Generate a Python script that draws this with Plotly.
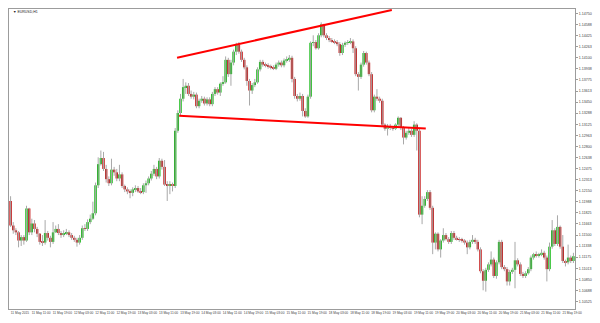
import plotly.graph_objects as go

symbol_title = "EURUSD,H1"

opens = [
    1.1200, 1.1164, 1.1157, 1.1154, 1.1142, 1.1147, 1.1142, 1.1189, 1.1154, 1.1167,
    1.1159, 1.1152, 1.1140, 1.1139, 1.1153, 1.1146, 1.1140, 1.1154, 1.1159, 1.1153,
    1.1150, 1.1153, 1.1154, 1.1150, 1.1146, 1.1143, 1.1139, 1.1146, 1.1160, 1.1159,
    1.1169, 1.1174, 1.1182, 1.1223, 1.1254, 1.1263, 1.1247, 1.1232, 1.1226, 1.1246,
    1.1242, 1.1233, 1.1239, 1.1222, 1.1217, 1.1214, 1.1212, 1.1217, 1.1219, 1.1214,
    1.1213, 1.1223, 1.1226, 1.1233, 1.1240, 1.1247, 1.1236, 1.1259, 1.1250, 1.1224,
    1.1222, 1.1224, 1.1222, 1.1303, 1.1329, 1.1350, 1.1367, 1.1369, 1.1357, 1.1353,
    1.1356, 1.1339, 1.1347, 1.1350, 1.1343, 1.1349, 1.1342, 1.1357, 1.1364, 1.1359,
    1.1372, 1.1374, 1.1407, 1.1386, 1.1403, 1.1419, 1.1429, 1.1419, 1.1407, 1.1396,
    1.1376, 1.1362, 1.1370, 1.1374, 1.1393, 1.1404, 1.1400, 1.1399, 1.1397, 1.1396,
    1.1394, 1.1400, 1.1403, 1.1399, 1.1406, 1.1407, 1.1410, 1.1379, 1.1354, 1.1350,
    1.1354, 1.1332, 1.1324, 1.1353, 1.1432, 1.1433, 1.1424, 1.1443, 1.1459, 1.1443,
    1.1439, 1.1436, 1.1434, 1.1433, 1.1430, 1.1417, 1.1429, 1.1432, 1.1433, 1.1434,
    1.1424, 1.1386, 1.1382, 1.1400, 1.1417, 1.1403, 1.1386, 1.1333, 1.1353, 1.1350,
    1.1347, 1.1312, 1.1306, 1.1310, 1.1307, 1.1306, 1.1312, 1.1322, 1.1307, 1.1293,
    1.1300, 1.1303, 1.1297, 1.1312, 1.1303, 1.1180, 1.1193, 1.1203, 1.1213, 1.1190,
    1.1139, 1.1152, 1.1129, 1.1142, 1.1150, 1.1144, 1.1140, 1.1153, 1.1146, 1.1144,
    1.1143, 1.1142, 1.1139, 1.1132, 1.1140, 1.1143, 1.1140, 1.1129, 1.1097, 1.1083,
    1.1099, 1.1107, 1.1114, 1.1090, 1.1110, 1.1140, 1.1103, 1.1100, 1.1082, 1.1096,
    1.1099, 1.1113, 1.1107, 1.1093, 1.1090, 1.1094, 1.1100, 1.1117, 1.1122, 1.1120,
    1.1122, 1.1124, 1.1117, 1.1100, 1.1133, 1.1157, 1.1137, 1.1162, 1.1133, 1.1112,
    1.1110, 1.1117, 1.1112,
]

closes = [
    1.1164, 1.1157, 1.1154, 1.1142, 1.1147, 1.1142, 1.1189, 1.1154, 1.1167, 1.1159,
    1.1152, 1.1140, 1.1139, 1.1153, 1.1146, 1.1140, 1.1154, 1.1159, 1.1153, 1.1150,
    1.1153, 1.1154, 1.1150, 1.1146, 1.1143, 1.1139, 1.1146, 1.1160, 1.1159, 1.1169,
    1.1174, 1.1182, 1.1223, 1.1254, 1.1263, 1.1247, 1.1232, 1.1226, 1.1246, 1.1242,
    1.1233, 1.1239, 1.1222, 1.1217, 1.1214, 1.1212, 1.1217, 1.1219, 1.1214, 1.1213,
    1.1223, 1.1226, 1.1233, 1.1240, 1.1247, 1.1236, 1.1259, 1.1250, 1.1224, 1.1222,
    1.1224, 1.1222, 1.1303, 1.1329, 1.1350, 1.1367, 1.1369, 1.1357, 1.1353, 1.1356,
    1.1339, 1.1347, 1.1350, 1.1343, 1.1349, 1.1342, 1.1357, 1.1364, 1.1359, 1.1372,
    1.1374, 1.1407, 1.1386, 1.1403, 1.1419, 1.1429, 1.1419, 1.1407, 1.1396, 1.1376,
    1.1362, 1.1370, 1.1374, 1.1393, 1.1404, 1.1400, 1.1399, 1.1397, 1.1396, 1.1394,
    1.1400, 1.1403, 1.1399, 1.1406, 1.1407, 1.1410, 1.1379, 1.1354, 1.1350, 1.1354,
    1.1332, 1.1324, 1.1353, 1.1432, 1.1433, 1.1424, 1.1443, 1.1459, 1.1443, 1.1439,
    1.1436, 1.1434, 1.1433, 1.1430, 1.1417, 1.1429, 1.1432, 1.1433, 1.1434, 1.1424,
    1.1386, 1.1382, 1.1400, 1.1417, 1.1403, 1.1386, 1.1333, 1.1353, 1.1350, 1.1347,
    1.1312, 1.1306, 1.1310, 1.1307, 1.1306, 1.1312, 1.1322, 1.1307, 1.1293, 1.1300,
    1.1303, 1.1297, 1.1312, 1.1303, 1.1180, 1.1193, 1.1203, 1.1213, 1.1190, 1.1139,
    1.1152, 1.1129, 1.1142, 1.1150, 1.1144, 1.1140, 1.1153, 1.1146, 1.1144, 1.1143,
    1.1142, 1.1139, 1.1132, 1.1140, 1.1143, 1.1140, 1.1129, 1.1097, 1.1083, 1.1099,
    1.1107, 1.1114, 1.1090, 1.1110, 1.1140, 1.1103, 1.1100, 1.1082, 1.1096, 1.1099,
    1.1113, 1.1107, 1.1093, 1.1090, 1.1094, 1.1100, 1.1117, 1.1122, 1.1120, 1.1122,
    1.1124, 1.1117, 1.1100, 1.1133, 1.1157, 1.1137, 1.1162, 1.1133, 1.1112, 1.1110,
    1.1117, 1.1112, 1.1119,
]

highs = [
    1.1207, 1.1169, 1.1160, 1.1156, 1.1150, 1.1150, 1.1193, 1.1190, 1.1174, 1.1172,
    1.1162, 1.1153, 1.1150, 1.1172, 1.1156, 1.1149, 1.1169, 1.1164, 1.1166, 1.1156,
    1.1157, 1.1159, 1.1157, 1.1153, 1.1149, 1.1146, 1.1150, 1.1164, 1.1166, 1.1173,
    1.1180, 1.1199, 1.1227, 1.1264, 1.1274, 1.1272, 1.1253, 1.1236, 1.1262, 1.1250,
    1.1247, 1.1253, 1.1242, 1.1224, 1.1220, 1.1217, 1.1220, 1.1223, 1.1222, 1.1219,
    1.1226, 1.1230, 1.1236, 1.1244, 1.1253, 1.1250, 1.1263, 1.1262, 1.1260, 1.1229,
    1.1229, 1.1227, 1.1307, 1.1333, 1.1357, 1.1379, 1.1374, 1.1373, 1.1362, 1.1360,
    1.1359, 1.1350, 1.1354, 1.1353, 1.1352, 1.1352, 1.1360, 1.1367, 1.1367, 1.1374,
    1.1383, 1.1412, 1.1410, 1.1407, 1.1422, 1.1432, 1.1433, 1.1422, 1.1410, 1.1399,
    1.1379, 1.1373, 1.1379, 1.1396, 1.1407, 1.1407, 1.1403, 1.1402, 1.1400, 1.1399,
    1.1403, 1.1406, 1.1406, 1.1409, 1.1412, 1.1414, 1.1413, 1.1382, 1.1357, 1.1359,
    1.1357, 1.1336, 1.1356, 1.1434, 1.1443, 1.1436, 1.1446, 1.1462, 1.1460, 1.1446,
    1.1442, 1.1439, 1.1437, 1.1436, 1.1433, 1.1432, 1.1434, 1.1436, 1.1439, 1.1437,
    1.1427, 1.1389, 1.1403, 1.1420, 1.1419, 1.1406, 1.1389, 1.1356, 1.1364, 1.1353,
    1.1350, 1.1314, 1.1313, 1.1313, 1.1310, 1.1314, 1.1324, 1.1323, 1.1310, 1.1303,
    1.1307, 1.1306, 1.1317, 1.1314, 1.1306, 1.1207, 1.1207, 1.1216, 1.1216, 1.1193,
    1.1154, 1.1154, 1.1144, 1.1160, 1.1153, 1.1147, 1.1156, 1.1156, 1.1149, 1.1147,
    1.1146, 1.1144, 1.1142, 1.1143, 1.1150, 1.1146, 1.1143, 1.1132, 1.1100, 1.1102,
    1.1110, 1.1126, 1.1117, 1.1113, 1.1143, 1.1143, 1.1106, 1.1103, 1.1099, 1.1102,
    1.1140, 1.1116, 1.1110, 1.1096, 1.1097, 1.1103, 1.1120, 1.1124, 1.1126, 1.1124,
    1.1129, 1.1127, 1.1120, 1.1139, 1.1172, 1.1160, 1.1179, 1.1164, 1.1150, 1.1114,
    1.1136, 1.1120, 1.1124,
]

lows = [
    1.1162, 1.1152, 1.1150, 1.1132, 1.1134, 1.1136, 1.1140, 1.1150, 1.1150, 1.1154,
    1.1147, 1.1136, 1.1134, 1.1136, 1.1142, 1.1132, 1.1137, 1.1153, 1.1150, 1.1146,
    1.1147, 1.1150, 1.1147, 1.1143, 1.1140, 1.1133, 1.1136, 1.1143, 1.1156, 1.1156,
    1.1166, 1.1172, 1.1179, 1.1219, 1.1252, 1.1244, 1.1227, 1.1222, 1.1223, 1.1237,
    1.1229, 1.1229, 1.1219, 1.1213, 1.1210, 1.1204, 1.1207, 1.1213, 1.1212, 1.1210,
    1.1210, 1.1212, 1.1223, 1.1230, 1.1237, 1.1232, 1.1233, 1.1246, 1.1222, 1.1200,
    1.1210, 1.1214, 1.1219, 1.1300, 1.1326, 1.1346, 1.1357, 1.1354, 1.1350, 1.1349,
    1.1336, 1.1336, 1.1344, 1.1340, 1.1340, 1.1339, 1.1339, 1.1354, 1.1356, 1.1354,
    1.1369, 1.1372, 1.1382, 1.1369, 1.1399, 1.1414, 1.1416, 1.1404, 1.1393, 1.1369,
    1.1340, 1.1357, 1.1367, 1.1372, 1.1390, 1.1397, 1.1396, 1.1394, 1.1393, 1.1392,
    1.1392, 1.1397, 1.1396, 1.1396, 1.1403, 1.1404, 1.1374, 1.1350, 1.1346, 1.1347,
    1.1324, 1.1322, 1.1322, 1.1350, 1.1427, 1.1422, 1.1422, 1.1440, 1.1440, 1.1436,
    1.1433, 1.1432, 1.1430, 1.1427, 1.1413, 1.1414, 1.1426, 1.1429, 1.1430, 1.1417,
    1.1383, 1.1362, 1.1379, 1.1397, 1.1400, 1.1383, 1.1330, 1.1330, 1.1347, 1.1344,
    1.1309, 1.1303, 1.1296, 1.1304, 1.1303, 1.1304, 1.1309, 1.1304, 1.1283, 1.1290,
    1.1297, 1.1294, 1.1294, 1.1274, 1.1176, 1.1166, 1.1190, 1.1200, 1.1187, 1.1122,
    1.1129, 1.1126, 1.1117, 1.1139, 1.1142, 1.1137, 1.1137, 1.1143, 1.1142, 1.1140,
    1.1139, 1.1136, 1.1122, 1.1129, 1.1137, 1.1137, 1.1126, 1.1094, 1.1069, 1.1067,
    1.1096, 1.1104, 1.1087, 1.1086, 1.1107, 1.1100, 1.1097, 1.1076, 1.1076, 1.1093,
    1.1072, 1.1104, 1.1090, 1.1087, 1.1087, 1.1092, 1.1097, 1.1114, 1.1117, 1.1117,
    1.1119, 1.1114, 1.1082, 1.1097, 1.1130, 1.1134, 1.1134, 1.1130, 1.1109, 1.1104,
    1.1107, 1.1109, 1.1109,
]

# time-axis labels, one every 8 bars
time_label_bars = [0, 8, 16, 24, 32, 40, 48, 56, 64, 72, 80, 88, 96, 104, 112,
                   120, 128, 136, 144, 152, 160, 168, 176, 184, 192, 200, 208]
time_labels = [
    "11 May 2015", "11 May 11:00", "11 May 19:00", "12 May 03:00", "12 May 11:00",
    "12 May 19:00", "13 May 03:00", "13 May 11:00", "13 May 19:00", "14 May 03:00",
    "14 May 11:00", "14 May 19:00", "15 May 03:00", "15 May 11:00", "15 May 19:00",
    "18 May 03:00", "18 May 11:00", "18 May 19:00", "19 May 03:00", "19 May 11:00",
    "19 May 19:00", "20 May 03:00", "20 May 11:00", "20 May 19:00", "21 May 03:00",
    "21 May 11:00", "21 May 19:00",
]

# price-axis labels
price_ticks = [1.14750, 1.14588, 1.14425, 1.14263, 1.14100, 1.13938, 1.13775,
               1.13613, 1.13450, 1.13288, 1.13125, 1.12963, 1.12800, 1.12638,
               1.12475, 1.12313, 1.12150, 1.11988, 1.11825, 1.11663, 1.11500,
               1.11338, 1.11175, 1.11013, 1.10850, 1.10688, 1.10525]
price_range = [1.104157, 1.148157]

# trend lines drawn on the chart (bar index, price)
upper_line_bars = [62.7, 143.6]
upper_line_prices = [1.14101, 1.14801]
lower_line_bars = [63.5, 156.4]
lower_line_prices = [1.13249, 1.13063]

GREEN = "#00b400"
RED = "#c00000"
WICK = "#a8a8a8"
FRAME = "#9c9c9c"
TXT = "#404040"

n = len(closes)
idx = list(range(n))
body_base = [min(o, c) for o, c in zip(opens, closes)]
body_h = [abs(c - o) for o, c in zip(opens, closes)]
body_col = [GREEN if c >= o else RED for o, c in zip(opens, closes)]

wx, wy = [], []
for i, h, l in zip(idx, highs, lows):
    wx += [i, i, None]
    wy += [l, h, None]

fig = go.Figure()
fig.add_trace(go.Scatter(x=wx, y=wy, mode="lines",
                         line=dict(color=WICK, width=1), hoverinfo="skip"))
fig.add_trace(go.Bar(x=idx, y=body_h, base=body_base, width=0.9,
                     marker=dict(color=body_col, line=dict(width=0)),
                     hoverinfo="skip"))
fig.add_trace(go.Scatter(x=upper_line_bars, y=upper_line_prices, mode="lines",
                         line=dict(color="#ff0000", width=2), hoverinfo="skip"))
fig.add_trace(go.Scatter(x=lower_line_bars, y=lower_line_prices, mode="lines",
                         line=dict(color="#ff0000", width=2), hoverinfo="skip"))

fig.update_layout(
    width=600, height=323,
    margin=dict(l=8, r=23, t=8, b=14, pad=0),
    paper_bgcolor="white", plot_bgcolor="white",
    showlegend=False,
    font=dict(family="Liberation Sans, Arial, sans-serif", size=4, color=TXT),
    xaxis=dict(
        range=[-0.6, n - 1 + 0.6],
        showgrid=False, zeroline=False,
        showline=True, linecolor=FRAME, linewidth=1, mirror=True,
        tickmode="array",
        tickvals=[b + 3.5 for b in time_label_bars],
        ticktext=time_labels, tickangle=0,
        ticks="", tickfont=dict(size=3.2, color=TXT),
    ),
    yaxis=dict(
        range=price_range, side="right",
        showgrid=False, zeroline=False,
        showline=True, linecolor=FRAME, linewidth=1, mirror=True,
        tickmode="array",
        tickvals=price_ticks,
        ticktext=["%.5f" % v for v in price_ticks],
        ticks="outside", ticklen=2, tickcolor=FRAME, tickwidth=1,
        tickfont=dict(size=3.6, color=TXT),
    ),
    annotations=[dict(
        text="\u25BC " + symbol_title, xref="paper", yref="paper",
        x=0.004, y=0.991, xanchor="left", yanchor="middle",
        showarrow=False, font=dict(size=3.5, color="#202020"),
    )],
)

fig.write_html("out.html", config={"displayModeBar": False})
